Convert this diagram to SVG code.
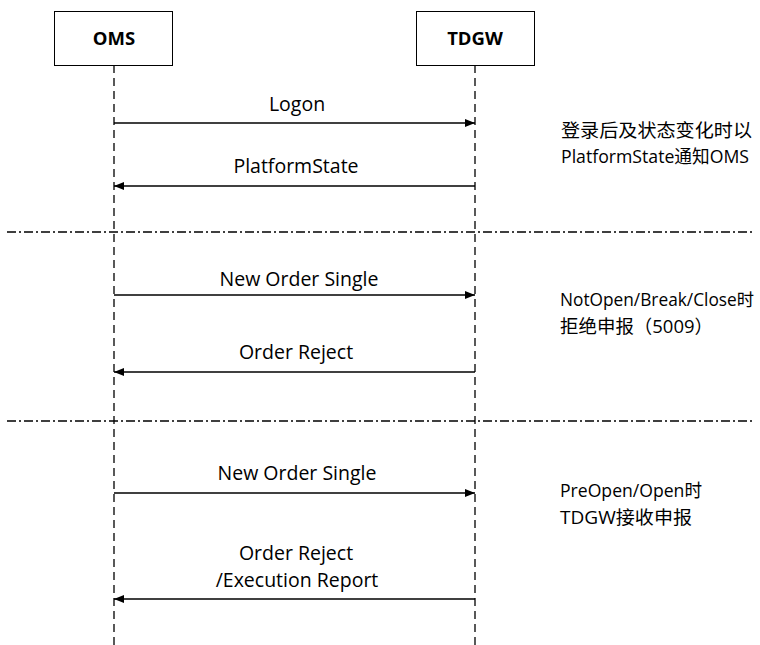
<svg xmlns="http://www.w3.org/2000/svg" width="760" height="645" viewBox="0 0 760 645">
<defs>
<style>
.box{fill:#fff;stroke:#000;stroke-width:1}
.life{stroke:#000;stroke-width:1.3;stroke-dasharray:8 5;fill:none}
.sep{stroke:#000;stroke-width:1.3;stroke-dasharray:9 3 2 3;fill:none}
.msg{stroke:#000;stroke-width:1.5;fill:none}
.t{font-family:"Open Sans","Noto Sans CJK SC",sans-serif;font-size:19.5px;fill:#000;text-anchor:middle}
.n{font-family:"Open Sans","Noto Sans CJK SC",sans-serif;font-size:18.5px;font-weight:bold;fill:#000;text-anchor:middle}
.r{font-family:"Open Sans","Noto Sans CJK SC",sans-serif;font-size:18.5px;fill:#000}
</style>
<marker id="ah" viewBox="0 0 10 8" refX="10" refY="4" markerWidth="10" markerHeight="8" markerUnits="userSpaceOnUse" orient="auto">
<path d="M0,0 L10,4 L0,8 Z" fill="#000"/>
</marker>
</defs>
<g id="lifelines">
<line class="life" x1="114" y1="65" x2="114" y2="645"/>
<line class="life" x1="475" y1="65" x2="475" y2="645"/>
</g>
<g id="OMS"><rect class="box" x="54.5" y="11.5" width="118" height="54"/><text class="n" x="114" y="45">OMS</text></g>
<g id="TDGW"><rect class="box" x="416.5" y="11.5" width="118" height="54"/><text class="n" x="475" y="45">TDGW</text></g>
<g id="separators">
<line class="sep" x1="7" y1="232" x2="752" y2="232"/>
<line class="sep" x1="7" y1="421" x2="752" y2="421"/>
</g>
<g id="connectors">
<line class="msg" x1="114" y1="123" x2="475" y2="123" marker-end="url(#ah)"/>
<line class="msg" x1="475" y1="186" x2="114" y2="186" marker-end="url(#ah)"/>
<line class="msg" x1="114" y1="295" x2="475" y2="295" marker-end="url(#ah)"/>
<line class="msg" x1="475" y1="372" x2="114" y2="372" marker-end="url(#ah)"/>
<line class="msg" x1="114" y1="493" x2="475" y2="493" marker-end="url(#ah)"/>
<line class="msg" x1="475" y1="599" x2="114" y2="599" marker-end="url(#ah)"/>
<text class="t" x="297" y="111">Logon</text>
<text class="t" x="296" y="173">PlatformState</text>
<text class="t" x="299" y="286">New Order Single</text>
<text class="t" x="296" y="359">Order Reject</text>
<text class="t" x="297" y="480">New Order Single</text>
<text class="t" x="296" y="560">Order Reject</text>
<text class="t" x="297" y="587">/Execution Report</text>
</g>
<g id="notes">
<text class="r" x="561" y="137" textLength="191" lengthAdjust="spacingAndGlyphs">登录后及状态变化时以</text>
<text class="r" x="561" y="163" textLength="188" lengthAdjust="spacingAndGlyphs">PlatformState通知OMS</text>
<text class="r" x="560" y="306" style="font-size:17.5px" textLength="194" lengthAdjust="spacingAndGlyphs">NotOpen/Break/Close时</text>
<text class="r" x="560" y="333" textLength="153" lengthAdjust="spacingAndGlyphs">拒绝申报（5009）</text>
<text class="r" x="560" y="497" textLength="142" lengthAdjust="spacingAndGlyphs">PreOpen/Open时</text>
<text class="r" x="560" y="524" textLength="132" lengthAdjust="spacingAndGlyphs">TDGW接收申报</text>
</g>
</svg>
